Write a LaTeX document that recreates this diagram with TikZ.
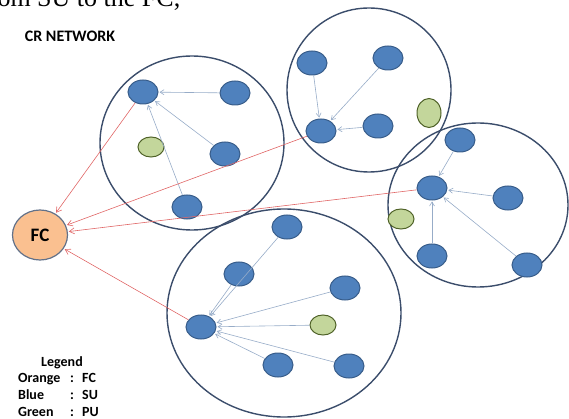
\documentclass[tikz,border=0pt]{standalone}
\usepackage{fontspec}
\setmainfont{Carlito}
\newfontfamily\serifcut{Liberation Serif}
\usetikzlibrary{shapes.geometric,arrows.meta}
\definecolor{subl}{HTML}{4F81BD}
\definecolor{subd}{HTML}{385D8A}
\definecolor{pugr}{HTML}{C3D69B}
\definecolor{pugd}{HTML}{4F6228}
\definecolor{fcor}{HTML}{FAC090}
\definecolor{ring}{HTML}{3B4D6B}
\definecolor{sulink}{HTML}{97ACC8}
\definecolor{fclink}{HTML}{E06666}
\tikzset{
  su/.style={ellipse,fill=subl,draw=subd,line width=1pt,minimum width=30pt,minimum height=24pt,inner sep=0pt},
  pu/.style={ellipse,fill=pugr,draw=pugd,line width=1pt,minimum width=26pt,minimum height=20pt,inner sep=0pt},
  puv/.style={pu,minimum width=24pt,minimum height=29pt},
  cluster/.style={ellipse,draw=ring,line width=1.4pt,inner sep=0pt},
  fcnode/.style={ellipse,fill=fcor,draw=ring!80,line width=1.2pt,minimum width=55pt,minimum height=50pt,inner sep=0pt,font=\bfseries\fontsize{19}{21}\selectfont},
  sulnk/.style={draw=sulink,line width=0.6pt,-{Straight Barb[length=4pt,width=5pt]},shorten >=1pt},
  fclnk/.style={draw=fclink,line width=0.6pt,-{Straight Barb[length=5pt,width=6pt]},shorten >=1pt},
  lg/.style={font=\bfseries\fontsize{14}{16}\selectfont,inner sep=0pt,anchor=base west}
}
\begin{document}
\begin{tikzpicture}[x=1pt,y=-1pt]
\useasboundingbox (0,0) rectangle (569,419);
% cut-off text line at the top
\node[font=\serifcut\fontsize{26}{28}\selectfont,anchor=base west,inner sep=0pt] (cut) at (-20,7) {from SU to the FC,};
\node[font=\bfseries\fontsize{16}{18}\selectfont,inner sep=0pt] (title) at (70,36) {CR NETWORK};
% clusters
\node[cluster,minimum width=184pt,minimum height=174pt] (CA) at (192,143) {};
\node[cluster,minimum width=164pt,minimum height=164pt] (CB) at (369,90) {};
\node[cluster,minimum width=180pt,minimum height=164pt] (CC) at (478,205) {};
\node[cluster,minimum width=234pt,minimum height=208pt] (CD) at (284,313) {};
% FC
\node[fcnode] (fc) at (40,235) {FC};
% cluster A
\node[su] (a1) at (143,92) {};
\node[su] (a2) at (235,93) {};
\node[pu] (a3) at (151,147) {};
\node[su] (a4) at (225,154) {};
\node[su] (a5) at (187,207) {};
% cluster B
\node[su] (b1) at (312,63) {};
\node[su] (b2) at (388,58) {};
\node[su] (b3) at (321,131) {};
\node[su] (b4) at (378,126) {};
\node[puv] (b5) at (429,113) {};
% cluster C
\node[su] (c1) at (460,140) {};
\node[su] (c2) at (432,188) {};
\node[su] (c3) at (508,198) {};
\node[pu] (c4) at (401,219) {};
\node[su] (c5) at (432,256) {};
\node[su] (c6) at (527,265) {};
% cluster D
\node[su] (d1) at (287,227) {};
\node[su] (d2) at (239,274) {};
\node[su] (d3) at (345,288) {};
\node[pu] (d4) at (323,325) {};
\node[su] (d5) at (201,327) {};
\node[su] (d6) at (278,365) {};
\node[su] (d7) at (349,366) {};
% SU links
\draw[sulnk] (a2) -- (a1);
\draw[sulnk] (a4) -- (a1);
\draw[sulnk] (a5) -- (a1);
\draw[sulnk] (b1) -- (b3);
\draw[sulnk] (b2) -- (b3);
\draw[sulnk] (b4) -- (b3);
\draw[sulnk] (c1) -- (c2);
\draw[sulnk] (c3) -- (c2);
\draw[sulnk] (c5) -- (c2);
\draw[sulnk] (c6) -- (c2);
\draw[sulnk] (d1) -- (d5);
\draw[sulnk] (d2) -- (d5);
\draw[sulnk] (d3) -- (d5);
\draw[sulnk] (d4) -- (d5);
\draw[sulnk] (d6) -- (d5);
\draw[sulnk] (d7) -- (d5);
% FC links
\draw[fclnk] (a1) -- (fc);
\draw[fclnk] (b3) -- (fc);
\draw[fclnk] (c2) -- (fc);
\draw[fclnk] (d5) -- (fc);
% legend
\node[font=\bfseries\fontsize{14}{16}\selectfont,inner sep=0pt,anchor=base] (lgt) at (62,366) {Legend};
\node[lg] (l1a) at (18,382) {Orange};
\node[lg] (l1b) at (70,382) {:};
\node[lg] (l1c) at (82,382) {FC};
\node[lg] (l2a) at (18,399) {Blue};
\node[lg] (l2b) at (70,399) {:};
\node[lg] (l2c) at (82,399) {SU};
\node[lg] (l3a) at (18,416) {Green};
\node[lg] (l3b) at (70,416) {:};
\node[lg] (l3c) at (82,416) {PU};
\end{tikzpicture}
\end{document}
